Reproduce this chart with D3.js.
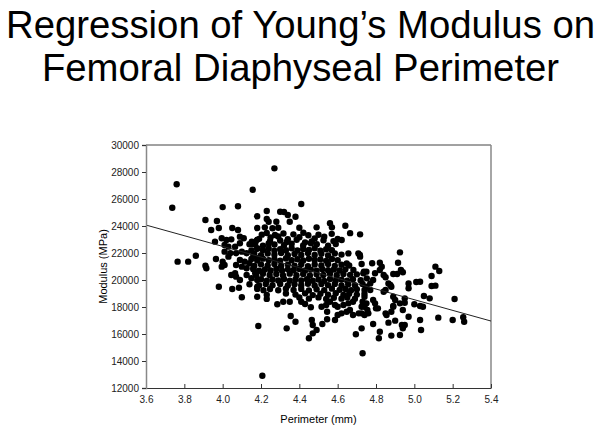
<!DOCTYPE html>
<html>
<head>
<meta charset="utf-8">
<script src="https://cdn.jsdelivr.net/npm/d3@7"></script>
<style>
  body { margin: 0; background: #fff; }
  svg { display: block; font-family: "Liberation Sans", Arial, sans-serif; }
</style>
</head>
<body>
<svg id="chart" width="601" height="433"></svg>
<script>
// --- data ---
const titleLines = ["Regression of Young\u2019s Modulus on", "Femoral Diaphyseal Perimeter"];
const xTicks = [3.6, 3.8, 4.0, 4.2, 4.4, 4.6, 4.8, 5.0, 5.2, 5.4];
const yTicks = [12000, 14000, 16000, 18000, 20000, 22000, 24000, 26000, 28000, 30000];
const regression = { intercept: 38290, slope: -3950 };

// outlying / sparse points [perimeter, modulus]
const sparsePoints = [
  [3.76,27090],[3.737,25350],[4.157,26690],[3.91,24440],[3.97,24370],[4.00,25400],[4.08,25460],[4.18,24720],
  [3.94,23700],[3.98,23850],[4.05,23850],[4.08,23700],[4.18,23850],
  [4.27,28270],[4.41,25630],[4.23,25110],[4.30,25060],[4.32,25040],[4.34,24810],[4.38,24690],[4.23,24520],
  [4.24,24320],[4.28,24320],[4.35,24320],[4.49,23900],[4.56,24200],[4.57,23900],[4.64,24020],
  [4.22,23900],[4.26,23830],[4.29,23870],[4.40,23870],
  [3.765,21360],[3.82,21360],[3.86,21800],[3.91,21060],[3.915,20870],[3.965,21560],[4.00,21360],[3.995,20990],
  [3.98,19500],[4.05,19330],[4.085,19430],[4.10,18720],[4.045,20370],[4.07,20250],[4.065,20500],[4.14,19680],[4.18,18760],
  [3.995,23090],[4.02,22960],[4.045,23010],[4.09,23210],[4.11,23090],[3.96,22840],[4.01,22590],[4.03,22470],
  [4.065,22470],[4.09,22720],[4.14,22650],[4.17,22720],[4.18,22350],[4.01,22100],[4.04,21980],[4.07,21980],
  [4.10,22100],[4.125,21980],[4.16,21850],[4.18,21610],[4.09,21480],[4.115,21360],[4.14,21240],[4.07,21110],
  [4.10,20990],[4.125,20870],[4.16,20870],[4.17,20500],[4.125,20370],[4.15,20130],[4.18,20000],[4.09,20000],
  [4.18,19500],[4.01,21110],[4.03,21730],
  [4.925,22050],[4.915,21280],[4.78,21240],[4.82,21280],[4.83,20990],[5.11,20990],[5.13,20670],[5.09,20300],
  [5.03,19870],[5.01,19850],[4.97,19750],[4.97,19390],[5.11,19580],[5.09,19560],[5.21,18590],[5.05,18810],
  [5.08,18640],[5.00,18200],[5.03,18070],[4.93,20740],[4.94,20570],[4.89,20440],[4.91,20440],
  [4.716,21850],[4.725,21180],[4.737,20620],[4.75,20620],[4.795,20500],[4.82,20740],[4.84,20370],[4.85,20200],
  [4.865,19750],[4.875,19630],[4.88,19500],[4.85,19260],[4.84,19130],[4.89,18760],[4.90,18520],[4.95,18640],
  [4.925,18270],[4.89,18070],[4.785,18520],[4.795,18270],[4.81,17900],[4.74,18760],[4.73,18390],[4.77,19260],
  [4.785,20000],[4.77,19750],[4.75,19500],[4.74,19260],
  [4.74,18020],[4.76,17530],[4.725,17530],[4.80,17900],[4.85,17530],[4.855,17410],[4.89,18020],[4.88,17650],
  [4.94,17780],[4.95,18320],[5.045,18020],[4.97,17280],[5.03,17040],[5.125,17210],[5.20,17040],[5.255,17240],
  [5.26,16910],[4.785,16740],[4.865,16840],[4.90,16990],[4.935,16670],[4.95,16670],[4.94,16420],[4.925,15930],
  [4.88,15880],[4.82,16170],[4.815,15680],[5.035,16300],[4.725,16420],[4.73,14570],
  [4.186,16590],[4.207,12910],[4.334,16420],[4.355,17330],[4.38,16910],[4.45,15680],[4.47,16050],[4.49,16300],
  [4.465,17040],[4.47,16670],[4.52,16740],[4.545,17090],[4.545,17650],[4.586,17040],[4.60,17410],[4.62,17530],
  [4.647,17650],[4.664,17780],[4.68,17410],[4.71,17530],[4.74,17410],[4.755,17780],[4.695,15980],[4.285,18200],
  [4.316,18390],[4.35,18390],[4.41,18390],[4.43,18220],[4.46,17980],[4.516,18020],[4.54,18150],[4.56,18390],
  [4.586,18150],[4.60,18020],[4.63,18150],[4.656,18270],[4.68,18390],[4.725,18020],[4.75,18270]
];

// dense core of the cloud, read row by row [perimeter, modulus]
const corePoints = [
  [4.204,23360],[4.23,23480],[4.273,23330],[4.317,23450],[4.369,23380],[4.421,23500],[4.447,23310],[4.569,23420],[4.665,23470],[4.717,23380],
  [4.19,23050],[4.25,23150],[4.34,23020],[4.40,23170],[4.48,23080],[4.53,23200],[4.60,23040],[4.29,23230],[4.50,23350],
  [4.152,22840],[4.178,22960],[4.247,22870],[4.30,22930],[4.334,22820],[4.386,22980],[4.465,22850],[4.526,22940],[4.578,22880],[4.621,22960],[4.43,22790],
  [4.16,22650],[4.21,22540],[4.27,22630],[4.32,22570],[4.36,22680],[4.42,22560],[4.491,22650],[4.55,22540],[4.59,22670],[4.24,22700],[4.46,22720],
  [4.15,22190],[4.18,22310],[4.21,22220],[4.24,22340],[4.27,22170],[4.30,22290],[4.33,22200],[4.36,22350],
  [4.39,22180],[4.42,22300],[4.45,22230],[4.48,22360],[4.51,22170],[4.54,22280],[4.57,22210],
  [4.656,21975],[4.708,21975],[4.717,21730],
  [4.165,21950],[4.20,21840],[4.235,21960],[4.27,21870],[4.305,21990],[4.34,21830],[4.375,21930],[4.41,21860],
  [4.445,21980],[4.48,21850],[4.515,21940],[4.55,21820],[4.585,21970],[4.62,21880],
  [4.15,21560],[4.18,21450],[4.21,21580],[4.24,21470],[4.27,21550],[4.30,21430],[4.33,21590],[4.36,21460],
  [4.39,21540],[4.42,21440],[4.45,21570],[4.48,21480],[4.51,21530],[4.54,21420],[4.57,21560],[4.60,21470],
  [4.647,21235],
  [4.165,21050],[4.20,21160],[4.235,21070],[4.27,21190],[4.305,21040],[4.34,21140],[4.375,21060],[4.41,21170],
  [4.445,21030],[4.48,21150],[4.515,21080],[4.55,21180],[4.585,21050],[4.62,21130],[4.66,21070],
  [4.16,20800],[4.19,20690],[4.22,20780],[4.25,20710],[4.28,20820],[4.31,20680],[4.34,20790],[4.37,20720],
  [4.40,20810],[4.43,20700],[4.46,20770],[4.49,20690],[4.52,20800],[4.55,20730],[4.58,20780],[4.61,20700],
  [4.64,20790],[4.682,20740],[4.734,20494],[4.752,20123],
  [4.175,20350],[4.21,20460],[4.245,20370],[4.28,20440],[4.315,20330],[4.35,20470],[4.385,20360],[4.42,20450],
  [4.455,20340],[4.49,20430],[4.525,20370],[4.56,20460],[4.595,20350],[4.63,20440],[4.665,20380],[4.70,20420],
  [4.20,20060],[4.23,19950],[4.26,20040],[4.29,19960],[4.32,20070],[4.35,19940],[4.38,20050],[4.41,19970],
  [4.44,20060],[4.47,19950],[4.50,20040],[4.53,19930],[4.56,20070],[4.59,19960],[4.62,20030],[4.65,19950],
  [4.68,20060],[4.72,19980],
  [4.19,19600],[4.225,19710],[4.26,19620],[4.30,19700],[4.34,19590],[4.375,19690],[4.41,19610],[4.445,19720],
  [4.48,19600],[4.515,19700],[4.55,19620],[4.585,19710],[4.62,19590],[4.655,19680],[4.69,19610],[4.73,19700],
  [4.18,19340],[4.213,19250],[4.247,19330],[4.29,19240],[4.33,19350],[4.37,19260],[4.41,19340],[4.45,19230],
  [4.49,19320],[4.53,19250],[4.57,19360],[4.61,19270],[4.64,19330],[4.67,19240],[4.70,19310],
  [4.23,18900],[4.33,19000],[4.38,18920],[4.43,19010],[4.47,18880],[4.51,18990],[4.55,18910],[4.59,19020],
  [4.63,18890],[4.66,18980],[4.70,18920],[4.74,18990],
  [4.23,18600],[4.40,18700],[4.45,18620],[4.50,18710],[4.54,18600],[4.58,18690],[4.62,18620],[4.65,18700],[4.69,18610]
];

const allPoints = sparsePoints.concat(corePoints);

// --- layout ---
const margin = { top: 145, right: 110, bottom: 45, left: 146 };
const width = 601, height = 433;
const plotW = width - margin.left - margin.right;   // 345
const plotH = height - margin.top - margin.bottom;  // 243

const svg = d3.select("#chart");

const x = d3.scaleLinear().domain([3.6, 5.4]).range([0, plotW]);
const y = d3.scaleLinear().domain([12000, 30000]).range([plotH, 0]);

// title
svg.append("g").selectAll("text")
  .data(titleLines)
  .enter().append("text")
  .attr("x", width / 2)
  .attr("y", (d, i) => 38 + i * 43)
  .attr("text-anchor", "middle")
  .style("font-size", "38.3px")
  .style("fill", "#000")
  .text(d => d);

const g = svg.append("g").attr("transform", `translate(${margin.left},${margin.top})`);

// frame (top + right)
g.append("line").attr("x1", 0).attr("x2", plotW).attr("y1", 0).attr("y2", 0)
  .attr("stroke", "#444").attr("stroke-width", 1);
g.append("line").attr("x1", plotW).attr("x2", plotW).attr("y1", 0).attr("y2", plotH)
  .attr("stroke", "#888").attr("stroke-width", 1.5);

// points
g.append("g").selectAll("circle")
  .data(allPoints)
  .enter().append("circle")
  .attr("cx", d => x(d[0]))
  .attr("cy", d => y(d[1]))
  .attr("r", 3.2)
  .attr("fill", "#000");

// regression line
const xd = x.domain();
g.append("line")
  .attr("x1", x(xd[0])).attr("y1", y(regression.intercept + regression.slope * xd[0]))
  .attr("x2", x(xd[1])).attr("y2", y(regression.intercept + regression.slope * xd[1]))
  .attr("stroke", "#222").attr("stroke-width", 1);

// axes
const xAxis = d3.axisBottom(x).tickValues(xTicks).tickFormat(d3.format(".1f")).tickSizeInner(-4).tickSizeOuter(0).tickPadding(8);
const yAxis = d3.axisLeft(y).tickValues(yTicks).tickFormat(d3.format("d")).tickSize(4).tickPadding(3);

const gx = g.append("g").attr("transform", `translate(0,${plotH})`).call(xAxis);
const gy = g.append("g").call(yAxis);

gx.select(".domain").attr("stroke", "#333");
gy.select(".domain").attr("stroke", "#888").attr("stroke-width", 1.5);
[gx, gy].forEach(a => {
  a.selectAll(".tick line").attr("stroke", "#333");
  a.selectAll("text").style("font-size", "10px").style("fill", "#222")
    .style("font-family", '"Liberation Sans", Arial, sans-serif');
});

// axis labels
svg.append("text")
  .attr("x", margin.left + plotW / 2)
  .attr("y", 423)
  .attr("text-anchor", "middle")
  .style("font-size", "11px")
  .text("Perimeter (mm)");

svg.append("text")
  .attr("transform", `translate(107,${margin.top + plotH / 2}) rotate(-90)`)
  .attr("text-anchor", "middle")
  .style("font-size", "11px")
  .text("Modulus (MPa)");
</script>
</body>
</html>
